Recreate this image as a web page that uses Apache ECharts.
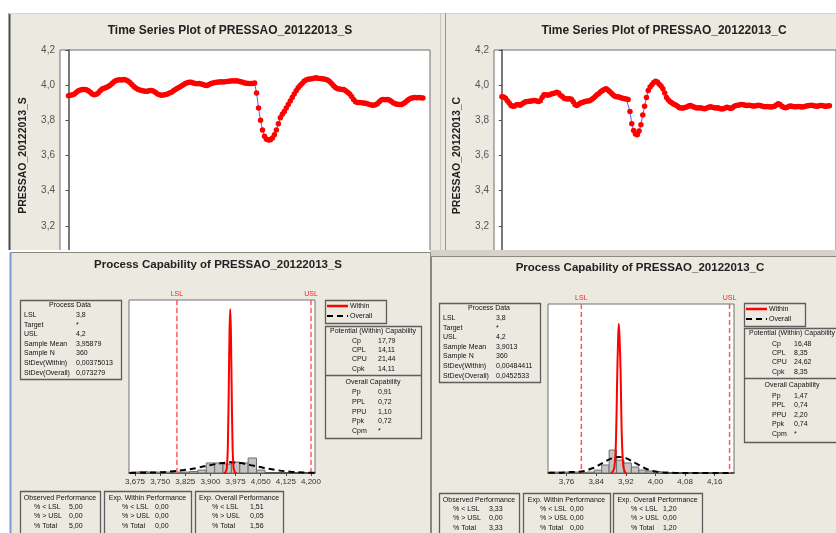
<!DOCTYPE html>
<html><head><meta charset="utf-8">
<script src="https://cdn.jsdelivr.net/npm/echarts@6/dist/echarts.min.js"></script>
<style>html,body{margin:0;padding:0;background:#fff}#c{width:836px;height:533px}</style>
</head><body><div id="c"></div><script>
// ---------------- DATA ----------------
const seriesS = [
3.940,3.942,3.945,3.950,3.960,3.968,3.972,3.975,3.976,3.974,
3.968,3.960,3.950,3.946,3.948,3.955,3.968,3.978,3.982,3.987,
3.993,4.000,4.010,4.020,4.026,4.030,4.031,4.030,4.032,4.030,
4.024,4.015,4.004,3.993,3.984,3.977,3.973,3.970,3.967,3.965,
3.966,3.970,3.970,3.965,3.958,3.950,3.945,3.942,3.944,3.947,
3.950,3.955,3.960,3.968,3.975,3.982,3.988,3.995,4.003,4.010,
4.014,4.017,4.016,4.012,4.010,4.008,4.010,4.006,4.004,4.000,
3.998,4.004,4.010,4.013,4.015,4.016,4.018,4.019,4.018,4.020,
4.021,4.022,4.024,4.025,4.024,4.025,4.022,4.019,4.016,4.013,
4.011,4.010,4.009,4.010,4.012,3.955,3.870,3.800,3.745,3.710,
3.693,3.688,3.690,3.700,3.718,3.745,3.780,3.815,3.835,3.850,
3.870,3.890,3.910,3.930,3.950,3.968,3.985,3.998,4.010,4.022,
4.030,4.033,4.035,4.037,4.040,4.042,4.040,4.038,4.037,4.035,
4.032,4.028,4.020,4.008,3.995,3.985,3.980,3.978,3.976,3.975,
3.968,3.960,3.950,3.935,3.918,3.905,3.902,3.902,3.900,3.898,
3.897,3.895,3.890,3.887,3.886,3.888,3.895,3.905,3.915,3.918,
3.917,3.918,3.915,3.908,3.900,3.895,3.892,3.890,3.890,3.895,
3.902,3.912,3.920,3.925,3.928,3.930,3.928,3.930,3.929,3.927];
const seriesC = [
3.934,3.932,3.926,3.912,3.898,3.885,3.880,3.882,3.888,3.890,
3.886,3.893,3.900,3.905,3.907,3.908,3.910,3.912,3.913,3.910,
3.907,3.912,3.930,3.945,3.946,3.943,3.946,3.950,3.952,3.956,
3.960,3.955,3.943,3.935,3.926,3.923,3.922,3.923,3.920,3.905,
3.888,3.885,3.892,3.898,3.902,3.906,3.908,3.910,3.912,3.918,
3.925,3.935,3.945,3.952,3.962,3.970,3.976,3.980,3.972,3.962,
3.952,3.942,3.936,3.934,3.932,3.928,3.925,3.923,3.921,3.919,
3.850,3.780,3.742,3.722,3.718,3.740,3.775,3.830,3.880,3.930,
3.970,3.990,4.003,4.015,4.022,4.018,4.005,3.995,3.980,3.955,
3.930,3.915,3.905,3.898,3.892,3.887,3.880,3.872,3.870,3.870,
3.873,3.876,3.882,3.884,3.880,3.876,3.872,3.870,3.872,3.870,
3.868,3.866,3.870,3.874,3.877,3.875,3.872,3.870,3.872,3.868,
3.865,3.866,3.870,3.874,3.872,3.868,3.872,3.880,3.884,3.886,
3.888,3.890,3.889,3.886,3.884,3.886,3.884,3.882,3.881,3.883,
3.886,3.885,3.882,3.879,3.877,3.878,3.877,3.876,3.877,3.880,
3.887,3.895,3.890,3.880,3.874,3.872,3.875,3.880,3.881,3.879,
3.877,3.877,3.878,3.877,3.876,3.877,3.880,3.883,3.885,3.886,
3.884,3.882,3.880,3.882,3.885,3.884,3.881,3.880,3.882,3.883];

const histTicksS = [3.675,3.750,3.825,3.900,3.975,4.050,4.125,4.200];
const histTicksC = [3.76,3.84,3.92,4.00,4.08,4.16];
const binStartsS = [3.6625,3.6875,3.7125,3.7375,3.7625,3.7875,3.8125,3.8375,3.8625,3.8875,3.9125,3.9375,3.9625,3.9875,4.0125,4.0375];
const binWidthS = 0.025;
const densS = [0.6,1.0,0.6,0.6,0.6,0.6,0.6,1.0,1.9,6.5,6.5,5.8,7.1,6.5,9.7,1.9];
const binStartsC = [3.715,3.735,3.755,3.775,3.795,3.815,3.835,3.855,3.875,3.895,3.915,3.935,3.955,3.975,3.995,4.015];
const binWidthC = 0.02;
const densC = [0.5,0.5,0.5,0.5,0.3,0.5,1.6,4.4,12.6,7.1,5.5,3.3,1.6,1.1,0.8,0.5];

const withinS = [[3.940,0],[3.945,0.5],[3.949,3.5],[3.952,18],[3.955,60],[3.957,92],[3.959,106],[3.961,92],[3.963,60],[3.966,18],[3.969,3.5],[3.973,0.5],[3.978,0]];
const overallS = [[3.660,0.05],[3.700,0.15],[3.740,0.4],[3.780,0.9],[3.820,1.9],[3.860,3.3],[3.900,5.1],[3.930,6.3],[3.960,6.9],[3.990,6.4],[4.020,5.1],[4.060,3.3],[4.100,1.8],[4.140,0.8],[4.180,0.3],[4.210,0.1]];
const withinC = [[3.880,0],[3.884,0.5],[3.889,3],[3.893,15],[3.897,55],[3.899,72],[3.901,82],[3.903,75],[3.906,55],[3.909,22],[3.913,4],[3.918,0.5],[3.922,0]];
const overallC = [[3.712,0.1],[3.740,0.2],[3.770,0.5],[3.800,0.8],[3.830,2.6],[3.860,5.8],[3.880,7.9],[3.900,8.8],[3.920,8.2],[3.950,5.0],[3.980,1.9],[4.010,0.5],[4.050,0.1],[4.100,0.02],[4.200,0]];

const specLimits = [3.8, 4.2];
const specNames = ['LSL','USL'];

const procLabels = ['LSL','Target','USL','Sample Mean','Sample N','StDev(Within)','StDev(Overall)'];
const procValsS = ['3,8','*','4,2','3,95879','360','0,00375013','0,073279'];
const procValsC = ['3,8','*','4,2','3,9013','360','0,00484411','0,0452533'];
const potLabels = ['Cp','CPL','CPU','Cpk'];
const potValsS = ['17,79','14,11','21,44','14,11'];
const potValsC = ['16,48','8,35','24,62','8,35'];
const ovLabels = ['Pp','PPL','PPU','Ppk','Cpm'];
const ovValsS = ['0,91','0,72','1,10','0,72','*'];
const ovValsC = ['1,47','0,74','2,20','0,74','*'];
const perfLabels = ['% < LSL','% > USL','% Total'];
const obsS = ['5,00','0,00','5,00'], expWS = ['0,00','0,00','0,00'], expOS = ['1,51','0,05','1,56'];
const obsC = ['3,33','0,00','3,33'], expWC = ['0,00','0,00','0,00'], expOC = ['1,20','0,00','1,20'];

// ---------------- BUILD ----------------
const BEIGE = '#ECE9E0';
const FONT = '"Liberation Sans", Arial, sans-serif';
const g = [];
function T(x, y, s, o = {}) {
  g.push({type:'text', zlevel: o.zl ?? 1, z: 20, x, y, silent:true,
    style:{text:s, fill:o.c || '#111', font:o.f || ('7px ' + FONT),
      align:o.a || 'left', verticalAlign:'middle', textAlign:o.a || 'left', textVerticalAlign:'middle'}});
}
function R(x, y, w, h, o = {}) {
  g.push({type:'rect', zlevel: o.zl ?? 1, z: o.z ?? 15, silent:true, shape:{x, y, width:w, height:h},
    style:{fill:o.fill || 'none', stroke:o.stroke || null, lineWidth:o.lw || 1}});
}
function L(x1, y1, x2, y2, o = {}) {
  g.push({type:'line', zlevel: o.zl ?? 1, z: o.z ?? 16, silent:true, shape:{x1, y1, x2, y2},
    style:{stroke:o.stroke || '#666', lineWidth:o.lw || 1, lineDash:o.dash || null}});
}

// top panels (zlevel 0)
R(9, 13, 827, 245, {zl:0, z:-10, fill:BEIGE});
L(9.5, 13, 9.5, 258, {zl:0, stroke:'#4a4a4a', lw:2});
L(9, 13.5, 836, 13.5, {zl:0, stroke:'#d8d5cc'});
L(445.5, 13, 445.5, 258, {zl:0, stroke:'#9a978f'});
L(440.5, 13, 440.5, 258, {zl:0, stroke:'#c9c6bd'});
T(230, 31, 'Time Series Plot of PRESSAO_20122013_S', {zl:0, f:'bold 12px ' + FONT, a:'center', c:'#222'});
T(664, 31, 'Time Series Plot of PRESSAO_20122013_C', {zl:0, f:'bold 12px ' + FONT, a:'center', c:'#222'});

// bottom panels (zlevel 1)
R(0, 250, 430, 283, {z:-10, fill:'#ffffff'});
R(10.5, 252.5, 420, 290, {z:-9, fill:BEIGE, stroke:'#8a877f'});
L(10.5, 252, 10.5, 533, {stroke:'#7b9bd6', lw:2});
R(430, 250, 406, 6, {z:-10, fill:'#d6d2c8'});
R(431.5, 256.5, 410, 290, {z:-9, fill:BEIGE, stroke:'#8a877f'});
T(218, 265, 'Process Capability of PRESSAO_20122013_S', {f:'bold 11.5px ' + FONT, a:'center', c:'#222'});
T(640, 268, 'Process Capability of PRESSAO_20122013_C', {f:'bold 11.5px ' + FONT, a:'center', c:'#222'});

function processBox(x, y, vals, valX) {
  R(x + .5, y + .5, 101, 79, {stroke:'#5e5e5e', lw:1.3});
  T(x + 50, y + 5, 'Process Data', {a:'center'});
  procLabels.forEach((l, i) => { T(x + 4, y + 15 + i * 9.6, l); T(valX, y + 15 + i * 9.6, vals[i]); });
}
processBox(20, 300, procValsS, 76);
processBox(439, 303, procValsC, 496);

function legendBox(x, y) {
  R(x + .5, y + .5, 61, 23, {stroke:'#5e5e5e', lw:1.3});
  L(x + 2, y + 6, x + 23, y + 6, {stroke:'#ff0000', lw:2.5});
  T(x + 25, y + 6, 'Within');
  L(x + 2, y + 16, x + 23, y + 16, {stroke:'#000', lw:2, dash:[6, 4]});
  T(x + 25, y + 16, 'Overall');
}
legendBox(325, 300);
legendBox(744, 303);

function capBox(x, y, w, divY, h, potRows, ovTitleY, ovRows, labX, valX, pv, ov) {
  R(x + .5, y + .5, w, h, {stroke:'#5e5e5e', lw:1.3});
  L(x, divY + .5, x + w, divY + .5, {stroke:'#5e5e5e', lw:1.3});
  T(x + 48, y + 5, 'Potential (Within) Capability', {a:'center'});
  potLabels.forEach((l, i) => { T(labX, potRows[i], l); T(valX, potRows[i], pv[i]); });
  T(x + 48, ovTitleY, 'Overall Capability', {a:'center'});
  ovLabels.forEach((l, i) => { T(labX, ovRows[i], l); T(valX, ovRows[i], ov[i]); });
}
capBox(325, 326, 96, 375, 112, [341,350,359,369], 382, [392,402,412,421,431], 352, 378, potValsS, ovValsS);
capBox(744, 328, 100, 378, 114, [344,353,362,372], 385, [396,405,415,424,434], 772, 794, potValsC, ovValsC);

function perfBox(x, y, w, title, labX, valX, vals) {
  R(x + .5, y + .5, w, 60, {stroke:'#5e5e5e', lw:1.3});
  T(x + w / 2, y + 7, title, {a:'center'});
  perfLabels.forEach((l, i) => { T(labX, y + 16 + i * 9.3, l); T(valX, y + 16 + i * 9.3, vals[i]); });
}
perfBox(20, 491, 80, 'Observed Performance', 34, 69, obsS);
perfBox(104, 491, 87, 'Exp. Within Performance', 122, 155, expWS);
perfBox(195, 491, 88, 'Exp. Overall Performance', 212, 250, expOS);
perfBox(439, 493, 80, 'Observed Performance', 453, 489, obsC);
perfBox(523, 493, 87, 'Exp. Within Performance', 540, 570, expWC);
perfBox(613, 493, 89, 'Exp. Overall Performance', 631, 663, expOC);

// ---------------- CHART ----------------
const commaFmt = d => v => v.toFixed(d).replace('.', ',');
function tsGrid(left) {
  return {left, top:50, width:370, height:211, show:true, backgroundColor:'#fff', borderColor:'#6f6f6f', borderWidth:1, zlevel:0};
}
function tsY(idx, name) {
  return {gridIndex:idx, type:'value', min:3.0, max:4.2, interval:0.2, zlevel:0,
    name, nameLocation:'middle', nameRotate:90, nameGap:31,
    nameTextStyle:{fontFamily:FONT, fontWeight:'bold', fontSize:10.5, color:'#222'},
    axisLine:{show:true, lineStyle:{color:'#4d4d4d', width:1.5}},
    axisTick:{show:true, length:3, lineStyle:{color:'#4d4d4d'}},
    axisLabel:{formatter:commaFmt(1), color:'#555', fontSize:10, fontFamily:FONT, margin:5},
    splitLine:{show:false}};
}
function tsX(idx) {
  return {gridIndex:idx, type:'value', min:-4.3, max:182.6, zlevel:0,
    axisLine:{show:false}, axisTick:{show:false}, axisLabel:{show:false}, splitLine:{show:false}};
}
function histX(idx, min, max, ticks, dec) {
  return {gridIndex:idx, type:'value', min, max, zlevel:1,
    axisLine:{show:true, onZero:false, lineStyle:{color:'#333', width:1.5}},
    axisTick:{show:true, length:3, customValues:ticks, lineStyle:{color:'#444'}},
    axisLabel:{customValues:ticks, formatter:commaFmt(dec), color:'#333', fontSize:8, fontFamily:FONT, margin:5},
    splitLine:{show:false}};
}
function histY(idx, max) {
  return {gridIndex:idx, type:'value', min:0, max, show:false, zlevel:1, splitLine:{show:false}};
}
function barsSeries(idx, starts, w, dens) {
  return {type:'custom', xAxisIndex:idx, yAxisIndex:idx, zlevel:1, z:3, silent:true,
    data: starts.map((s, i) => [s, s + w, dens[i]]),
    encode:{x:[0, 1], y:2},
    renderItem:(params, api) => {
      const p0 = api.coord([api.value(0), api.value(2)]);
      const p1 = api.coord([api.value(1), 0]);
      return {type:'rect', shape:{x:p0[0], y:p0[1], width:p1[0] - p0[0], height:p1[1] - p0[1]},
        style:{fill:'#c4c4c4', stroke:'#6e6e6e', lineWidth:1}};
    }};
}
function specSeries(idx) {
  return {type:'custom', xAxisIndex:idx, yAxisIndex:idx, zlevel:1, z:4, silent:true,
    data: specLimits.map((v, i) => [v, i]),
    encode:{x:0},
    renderItem:(params, api) => {
      const cs = params.coordSys;
      const x = api.coord([api.value(0), 0])[0];
      return {type:'group', children:[
        {type:'line', shape:{x1:x, y1:cs.y, x2:x, y2:cs.y + cs.height},
          style:{stroke:'#ff5a5a', lineWidth:1.5, lineDash:[5, 3]}},
        {type:'text', x:x, y:cs.y - 6,
          style:{text:specNames[api.value(1)], fill:'#ff2020', font:'7px ' + FONT, align:'center', verticalAlign:'middle', textAlign:'center', textVerticalAlign:'middle'}}
      ]};
    }};
}
function curve(idx, data, color, dashed) {
  return {type:'line', xAxisIndex:idx, yAxisIndex:idx, zlevel:1, z:5, data, smooth:0.35, symbol:'none', silent:true,
    lineStyle:{color, width:2, type: dashed ? [6, 4] : 'solid'}};
}
function tsSeries(idx, vals) {
  return {type:'line', xAxisIndex:idx, yAxisIndex:idx, zlevel:0, data: vals.map((v, i) => [i, v]),
    symbol:'circle', symbolSize:5.5, showSymbol:true, silent:true,
    itemStyle:{color:'#ff0000'}, lineStyle:{color:'#5560ff', width:1}};
}

const chart = echarts.init(document.getElementById('c'), null, {renderer:'canvas'});
chart.setOption({
  animation:false,
  backgroundColor:'#ffffff',
  grid:[
    tsGrid(60), tsGrid(494),
    {left:129, top:300, width:186, height:173, show:true, backgroundColor:'#fff', borderColor:'#707070', borderWidth:1, zlevel:1},
    {left:548, top:304, width:186, height:169, show:true, backgroundColor:'#fff', borderColor:'#707070', borderWidth:1, zlevel:1}
  ],
  xAxis:[tsX(0), tsX(1), histX(2, 3.657, 4.212, histTicksS, 3), histX(3, 3.710, 4.212, histTicksC, 2)],
  yAxis:[tsY(0, 'PRESSAO_20122013_S'), tsY(1, 'PRESSAO_20122013_C'), histY(2, 112), histY(3, 92.8)],
  series:[
    tsSeries(0, seriesS), tsSeries(1, seriesC),
    barsSeries(2, binStartsS, binWidthS, densS),
    specSeries(2),
    curve(2, overallS, '#000', true),
    curve(2, withinS, '#ff0000', false),
    barsSeries(3, binStartsC, binWidthC, densC),
    specSeries(3),
    curve(3, overallC, '#000', true),
    curve(3, withinC, '#ff0000', false)
  ],
  graphic:{elements:g}
});
</script></body></html>
